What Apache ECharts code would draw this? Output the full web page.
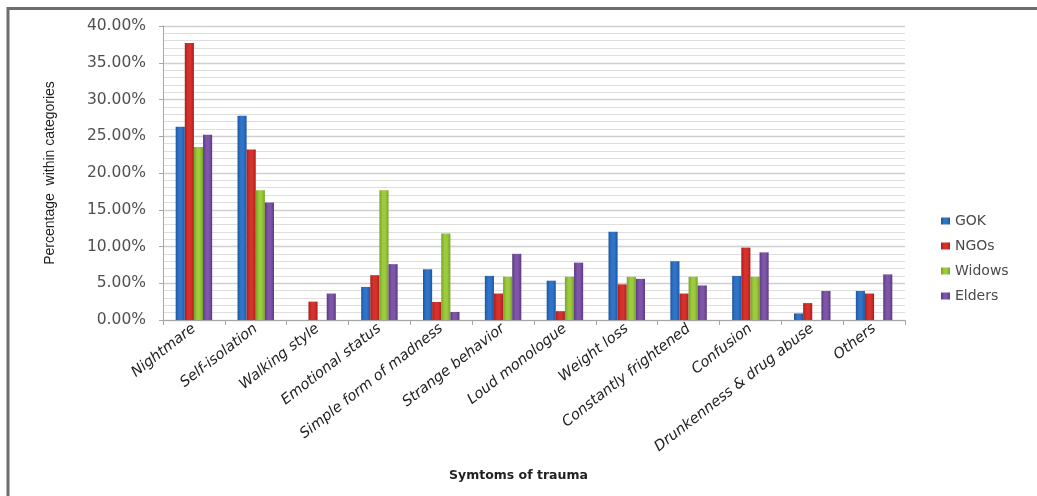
<!DOCTYPE html>
<html>
<head>
<meta charset="utf-8">
<title>Symptoms of trauma</title>
<script src="https://cdn.jsdelivr.net/npm/echarts@6/dist/echarts.min.js"></script>
<style>
  html, body { margin: 0; padding: 0; background: #ffffff; }
  #chart { width: 1037px; height: 496px; }
</style>
</head>
<body>
<div id="chart"></div>
<script>
// Symptom categories
const categories = [
  'Nightmare', 'Self-isolation', 'Walking style', 'Emotional status',
  'Simple form of madness', 'Strange behavior', 'Loud monologue', 'Weight loss',
  'Constantly frightened', 'Confusion', 'Drunkenness & drug abuse', 'Others'
];

// Percentage within each respondent group
const gok    = [26.3, 27.8, 0,    4.5,  6.9,  6.0, 5.35, 12.0, 8.0, 6.0,  0.9, 3.95];
const ngos   = [37.7, 23.2, 2.5,  6.1,  2.45, 3.6, 1.2,  4.85, 3.6, 9.85, 2.3, 3.6];
const widows = [23.53, 17.65, 0,  17.65, 11.76, 5.88, 5.88, 5.88, 5.88, 5.88, 0, 0];
const elders = [25.2, 16.0, 3.6,  7.6,  1.1,  9.0, 7.8,  5.6,  4.7, 9.2,  3.95, 6.2];

const seriesNames = ['GOK', 'NGOs', 'Widows', 'Elders'];
const seriesData = [gok, ngos, widows, elders];

// Base colour, darker edge shade for each bar gradient
const palette = [
  ['#2f74c8', '#1f56a0'],
  ['#d8312c', '#a8201d'],
  ['#9ccb3c', '#76a228'],
  ['#7e55a8', '#5c3a84']
];

function barFill(pair) {
  return new echarts.graphic.LinearGradient(0, 0, 1, 0, [
    { offset: 0, color: pair[1] },
    { offset: 0.35, color: pair[0] },
    { offset: 0.65, color: pair[0] },
    { offset: 1, color: pair[1] }
  ]);
}

const chart = echarts.init(document.getElementById('chart'), null, { renderer: 'canvas' });

const option = {
  backgroundColor: '#ffffff',
  animation: false,
  textStyle: { fontFamily: 'DejaVu Sans, sans-serif' },
  grid: { left: 163, right: 132, top: 26, bottom: 176, containLabel: false },
  legend: {
    orient: 'vertical',
    left: 936,
    top: 209,
    itemWidth: 9,
    itemHeight: 7,
    itemGap: 11,
    icon: 'rect',
    data: seriesNames,
    textStyle: { fontFamily: 'DejaVu Sans, sans-serif', fontSize: 14, color: '#4a4a4a' }
  },
  xAxis: {
    type: 'category',
    data: categories,
    boundaryGap: true,
    axisLine: { lineStyle: { color: '#a6a6a6', width: 1 } },
    axisTick: { show: true, length: 5, lineStyle: { color: '#a6a6a6' } },
    axisLabel: {
      rotate: 38,
      interval: 0,
      margin: 7,
      fontSize: 14.5,
      color: '#222222',
      fontStyle: 'italic',
      fontFamily: 'DejaVu Sans, sans-serif'
    },
    splitLine: { show: false }
  },
  yAxis: {
    type: 'value',
    min: 0,
    max: 40,
    interval: 5,
    name: 'Percentage  within categories',
    nameLocation: 'middle',
    nameGap: 106,
    nameTextStyle: { fontFamily: 'Liberation Sans, sans-serif', fontSize: 14, color: '#222222' },
    axisLine: { show: true, lineStyle: { color: '#a6a6a6', width: 1 } },
    axisTick: { show: true, length: 4, lineStyle: { color: '#a6a6a6' } },
    axisLabel: {
      margin: 17,
      fontFamily: 'DejaVu Sans, sans-serif',
      fontSize: 15.5,
      color: '#505050',
      formatter: v => v.toFixed(2) + '%'
    },
    splitLine: { show: true, lineStyle: { color: '#cfcfcf', width: 1.3 } },
    minorTick: { show: false, splitNumber: 5 },
    minorSplitLine: { show: true, lineStyle: { color: '#dedede', width: 1.2 } }
  },
  series: seriesNames.map((name, i) => ({
    name: name,
    type: 'bar',
    data: seriesData[i],
    barGap: '0%',
    barCategoryGap: '41%',
    itemStyle: { color: barFill(palette[i]) }
  })),
  graphic: [
    {
      type: 'rect',
      silent: true,
      shape: { x: 8, y: 8.5, width: 1200, height: 700 },
      style: { fill: 'none', stroke: '#6e6e6e', lineWidth: 3 }
    },
    {
      type: 'text',
      left: 449,
      top: 469,
      style: {
        text: 'Symtoms of trauma',
        font: 'bold 12.5px DejaVu Sans, sans-serif',
        fill: '#222222'
      }
    }
  ]
};

chart.setOption(option);
</script>
</body>
</html>
